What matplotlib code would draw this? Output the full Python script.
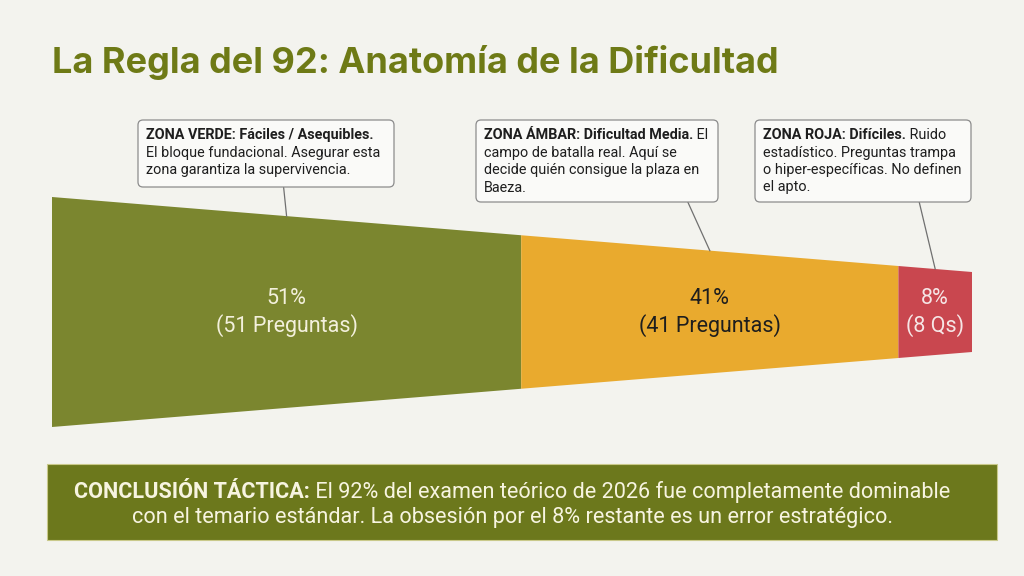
import matplotlib
matplotlib.use("Agg")
import matplotlib.pyplot as plt
from matplotlib.patches import Polygon, FancyBboxPatch, Rectangle
import numpy as np

# ---- data ----
zones = ["verde", "ambar", "roja"]
pct = [51, 41, 8]
pct_labels = ["51%", "41%", "8%"]
count_labels = ["(51 Preguntas)", "(41 Preguntas)", "(8 Qs)"]
box_bold = ["ZONA VERDE: Fáciles / Asequibles.",
            "ZONA ÁMBAR: Dificultad Media.",
            "ZONA ROJA: Difíciles."]
box_rest = [["", "El bloque fundacional. Asegurar esta", "zona garantiza la supervivencia."],
            [" El", "campo de batalla real. Aquí se", "decide quién consigue la plaza en", "Baeza."],
            [" Ruido", "estadístico. Preguntas trampa", "o hiper-específicas. No definen", "el apto."]]
title = "La Regla del 92: Anatomía de la Dificultad"
concl_bold = "CONCLUSIÓN TÁCTICA:"
concl_line1 = " El 92% del examen teórico de 2026 fue completamente dominable"
concl_line2 = "con el temario estándar. La obsesión por el 8% restante es un error estratégico."

# ---- style ----
BG = "#F3F3EE"
colors = ["#7B862F", "#E9AA2E", "#C9474F"]
txt_colors = ["#F3F0DC", "#1E1E1E", "#F6E6E6"]
OLIVE = "#6E7A16"
BANNER = "#6C781C"

fig = plt.figure(figsize=(10.24, 5.76), dpi=100, facecolor=BG)
ax = fig.add_axes([0, 0, 1, 1])
ax.set_xlim(0, 1024)
ax.set_ylim(576, 0)
ax.axis("off")
ax.set_facecolor(BG)

# funnel geometry (pixels)
x0, x1 = 52, 972
cy = 312
h0, h1 = 230, 80

def half_h(x):
    return (h0 + (h1 - h0) * (x - x0) / (x1 - x0)) / 2

cum = np.concatenate([[0], np.cumsum(pct)])
edges = x0 + (x1 - x0) * cum / cum[-1]
centers = (edges[:-1] + edges[1:]) / 2

for i in range(len(pct)):
    a, b = edges[i], edges[i + 1]
    poly = Polygon([(a, cy - half_h(a)), (b, cy - half_h(b)),
                    (b, cy + half_h(b)), (a, cy + half_h(a))],
                   closed=True, facecolor=colors[i], edgecolor="none")
    ax.add_patch(poly)
    ax.text(centers[i], 299, pct_labels[i], ha="center", va="center",
            fontsize=15.5, family="Roboto", color=txt_colors[i])
    ax.text(centers[i], 326, count_labels[i], ha="center", va="center",
            fontsize=15.5, family="Roboto", color=txt_colors[i])

# title
ax.text(52, 63, title, ha="left", va="center", fontsize=26, fontweight="bold",
        family="Inter", color=OLIVE)

# annotation boxes
boxes = [(138, 120, 256, 67), (476, 120, 242, 82), (755, 120, 216, 82)]
line_dx = [-3, -22, -16]
fig.canvas.draw()
renderer = fig.canvas.get_renderer()
for i, (bx, by, bw, bh) in enumerate(boxes):
    ax.add_patch(FancyBboxPatch((bx, by), bw, bh, boxstyle="round,pad=0,rounding_size=5",
                                facecolor="#FAFAF8", edgecolor="#8C8C8C", linewidth=0.9, zorder=3))
    tx, ty = bx + 8, by + 15
    lh = 17.5
    tb = ax.text(tx, ty, box_bold[i], ha="left", va="center", fontsize=10.4,
                 fontweight="bold", family="Roboto", color="#1E1E1E", zorder=4)
    ext = tb.get_window_extent(renderer)
    if box_rest[i][0]:
        ax.text(ext.x1, ty, box_rest[i][0], ha="left", va="center", fontsize=10.4,
                family="Roboto", color="#1E1E1E", zorder=4)
    for k, line in enumerate(box_rest[i][1:]):
        ax.text(tx, ty + lh * (k + 1), line, ha="left", va="center", fontsize=10.4,
                family="Roboto", color="#1E1E1E", zorder=4)
    # leader line to funnel top edge
    ex = centers[i]
    ax.plot([ex + line_dx[i], ex], [by + bh, cy - half_h(ex)], color="#707070",
            linewidth=0.9, zorder=2)

# conclusion banner
ax.add_patch(Rectangle((47, 464), 950, 76, facecolor=BANNER, edgecolor="#C9C98A", linewidth=0.8))
fs = 15.6
tb = ax.text(0, 0, concl_bold, fontsize=fs, fontweight="bold", family="Roboto")
tr = ax.text(0, 0, concl_line1, fontsize=fs, family="Roboto")
wb = tb.get_window_extent(renderer).width
wr = tr.get_window_extent(renderer).width
tb.remove()
tr.remove()
start = 512 - (wb + wr) / 2
ax.text(start, 492, concl_bold, ha="left", va="center", fontsize=fs, fontweight="bold",
        family="Roboto", color="#F7F4E0")
ax.text(start + wb, 492, concl_line1, ha="left", va="center", fontsize=fs,
        family="Roboto", color="#F7F4E0")
ax.text(512, 517, concl_line2, ha="center", va="center", fontsize=fs,
        family="Roboto", color="#F7F4E0")

fig.savefig("out.png", dpi=100, facecolor=BG)
